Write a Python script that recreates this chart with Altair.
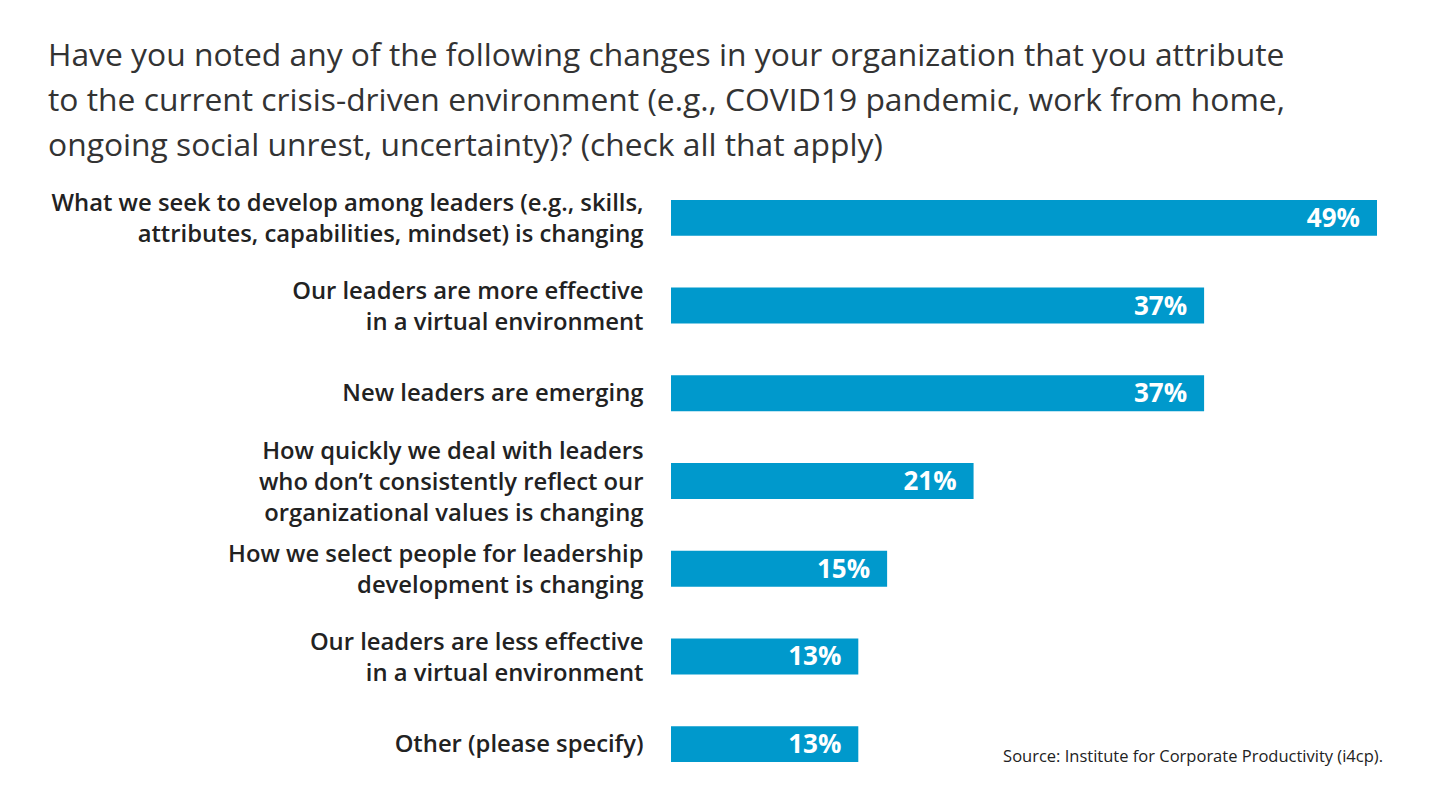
import altair as alt
import pandas as pd

categories = [
    "What we seek to develop among leaders (e.g., skills,|attributes, capabilities, mindset) is changing",
    "Our leaders are more effective|in a virtual environment",
    "New leaders are emerging",
    "How quickly we deal with leaders|who don\u2019t consistently reflect our|organizational values is changing",
    "How we select people for leadership|development is changing",
    "Our leaders are less effective|in a virtual environment",
    "Other (please specify)",
]
values = [49, 37, 37, 21, 15, 13, 13]
value_labels = ["49%", "37%", "37%", "21%", "15%", "13%", "13%"]

title_lines = [
    "Have you noted any of the following changes in your organization that you attribute",
    "to the current crisis-driven environment (e.g., COVID19 pandemic, work from home,",
    "ongoing social unrest, uncertainty)? (check all that apply)",
]
source_text = "Source: Institute for Corporate Productivity (i4cp)."

df = pd.DataFrame({"cat": categories, "val": values, "lbl": value_labels})

FONT = "Open Sans"
BLUE = "#0099cc"
LH = 31

y_enc = alt.Y(
    "cat:N",
    sort=categories,
    title=None,
    scale=alt.Scale(paddingInner=0.59, paddingOuter=0.295),
    axis=alt.Axis(
        domain=False,
        ticks=False,
        labelExpr="split(datum.label, '|')",
        labelFont=FONT,
        labelFontSize=23.8,
        labelFontWeight=600,
        labelColor="#222222",
        labelLineHeight=LH,
        labelPadding=28,
        labelLimit=900,
        labelAlign="right",
        labelOffset={
            "condition": [
                {"test": "length(split(datum.label, '|')) == 3", "value": -LH + 2},
                {"test": "length(split(datum.label, '|')) == 2", "value": -LH / 2 + 2},
            ],
            "value": 1,
        },
    ),
)
x_enc = alt.X("val:Q", axis=None, scale=alt.Scale(domain=[0, 49], nice=False))

bars = alt.Chart(df).mark_bar(color=BLUE).encode(x=x_enc, y=y_enc)

texts = alt.Chart(df).mark_text(
    align="right", baseline="middle", dx=-17, dy=1, color="white",
    font=FONT, fontSize=26, fontWeight="bold",
).encode(x=x_enc, y=y_enc, text="lbl:N")

source = alt.Chart(pd.DataFrame({"t": [source_text]})).mark_text(
    align="right", baseline="middle", font=FONT, fontSize=16.5, color="#222222",
).encode(x=alt.value(712), y=alt.value(583), text="t:N")

chart = alt.layer(bars, texts, source).properties(
    width=706,
    height=614,
    background="white",
    autosize=alt.AutoSizeParams(type="none"),
    padding={"left": 663, "top": 166, "right": 46, "bottom": 15},
    title=alt.TitleParams(
        text=title_lines,
        anchor="start",
        frame="group",
        dx=-623,
        offset=11,
        font=FONT,
        fontSize=31.8,
        fontWeight="normal",
        color="#333333",
        lineHeight=45,
    ),
).configure_view(strokeWidth=0)

chart.save("out.html", embed_options={"renderer": "svg", "actions": False})
